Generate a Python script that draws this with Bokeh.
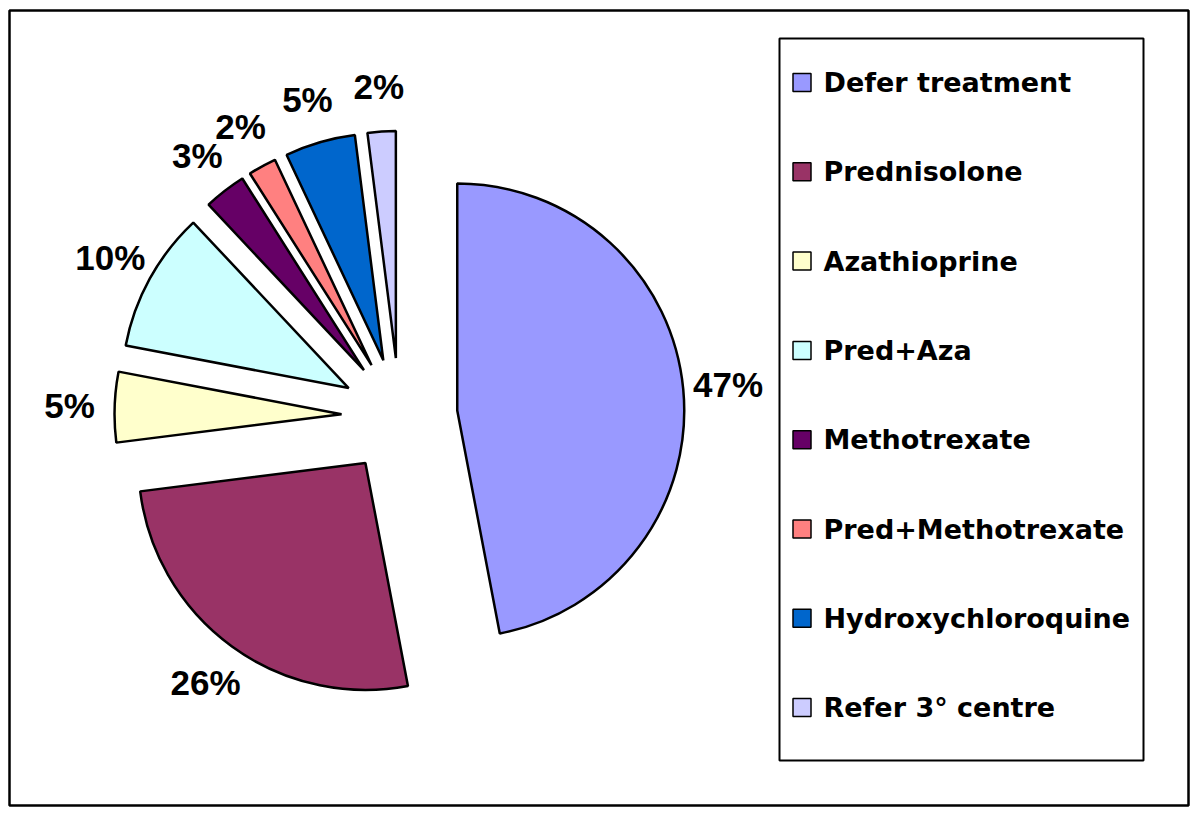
import math
from bokeh.plotting import figure
from bokeh.models import Range1d, ColumnDataSource
from bokeh.core.properties import value
from bokeh.embed import file_html
from bokeh.resources import INLINE

# ---- data ----
categories = ["Defer treatment", "Prednisolone", "Azathioprine", "Pred+Aza",
              "Methotrexate", "Pred+Methotrexate", "Hydroxychloroquine", "Refer 3\u00b0 centre"]
percent = [47, 26, 5, 10, 3, 2, 5, 2]
colors = ["#9999FF", "#993366", "#FFFFCC", "#CCFFFF",
          "#660066", "#FF8080", "#0066CC", "#CCCCFF"]

# ---- layout (pixel-like data units) ----
W, H = 1192, 810
PAGE_H = 818
cx, cy = 399.0, PAGE_H - 415.5
R = 227.0
EXPLODE = 58.0
LABEL_R = 330.0

p = figure(width=W, height=H, x_range=Range1d(0, W), y_range=Range1d(PAGE_H - H, PAGE_H),
           output_backend="svg", toolbar_location=None, min_border=0)
p.axis.visible = False
p.xgrid.visible = False
p.ygrid.visible = False
p.outline_line_color = None
p.background_fill_color = "white"
p.border_fill_color = "white"

total = float(sum(percent))
xs, ys, starts, ends, lx, ly, labels = [], [], [], [], [], [], []
cum = 0.0
for v in percent:
    th_s = 360.0 * cum / total
    cum += v
    th_e = 360.0 * cum / total
    mid = math.radians((th_s + th_e) / 2.0)
    xs.append(cx + EXPLODE * math.sin(mid))
    ys.append(cy + EXPLODE * math.cos(mid))
    starts.append(math.radians(90.0 - th_e))
    ends.append(math.radians(90.0 - th_s))
    lx.append(cx + LABEL_R * math.sin(mid))
    ly.append(cy + LABEL_R * math.cos(mid))
    labels.append(f"{v}%")

src = ColumnDataSource(dict(x=xs, y=ys, start=starts, end=ends, color=colors,
                            lx=lx, ly=ly, label=labels))

# outer frame
p.quad(left=[9], right=[1188], top=[PAGE_H - 10], bottom=[PAGE_H - 805],
       fill_color=None, line_color="black", line_width=2.5)

p.wedge(x="x", y="y", radius=R, start_angle="start", end_angle="end",
        direction="anticlock", fill_color="color", line_color="black", line_width=2.5,
        source=src)

p.text(x="lx", y="ly", text="label", source=src, text_align="center", text_baseline="middle",
       text_font=value("Liberation Sans"), text_font_style="bold", text_font_size="35px",
       text_color="black")

# legend (manual)
LEG_L, LEG_R, LEG_T, LEG_B = 779, 1143, 38, 760
p.quad(left=[LEG_L], right=[LEG_R], top=[PAGE_H - LEG_T], bottom=[PAGE_H - LEG_B],
       fill_color="white", line_color="black", line_width=2)
row_y = [PAGE_H - (82 + 89.3 * i) for i in range(len(categories))]
leg = ColumnDataSource(dict(y=row_y, name=categories, color=colors,
                            sx=[801.5] * len(categories), tx=[823] * len(categories)))
p.rect(x="sx", y="y", width=18, height=18, fill_color="color", line_color="black",
       line_width=1.5, source=leg)
p.text(x="tx", y="y", text="name", source=leg, text_align="left", text_baseline="middle",
       text_font=value("DejaVu Sans"), text_font_style="bold", text_font_size="27px",
       text_color="black")

open("out.html", "w").write(file_html(p, INLINE))
